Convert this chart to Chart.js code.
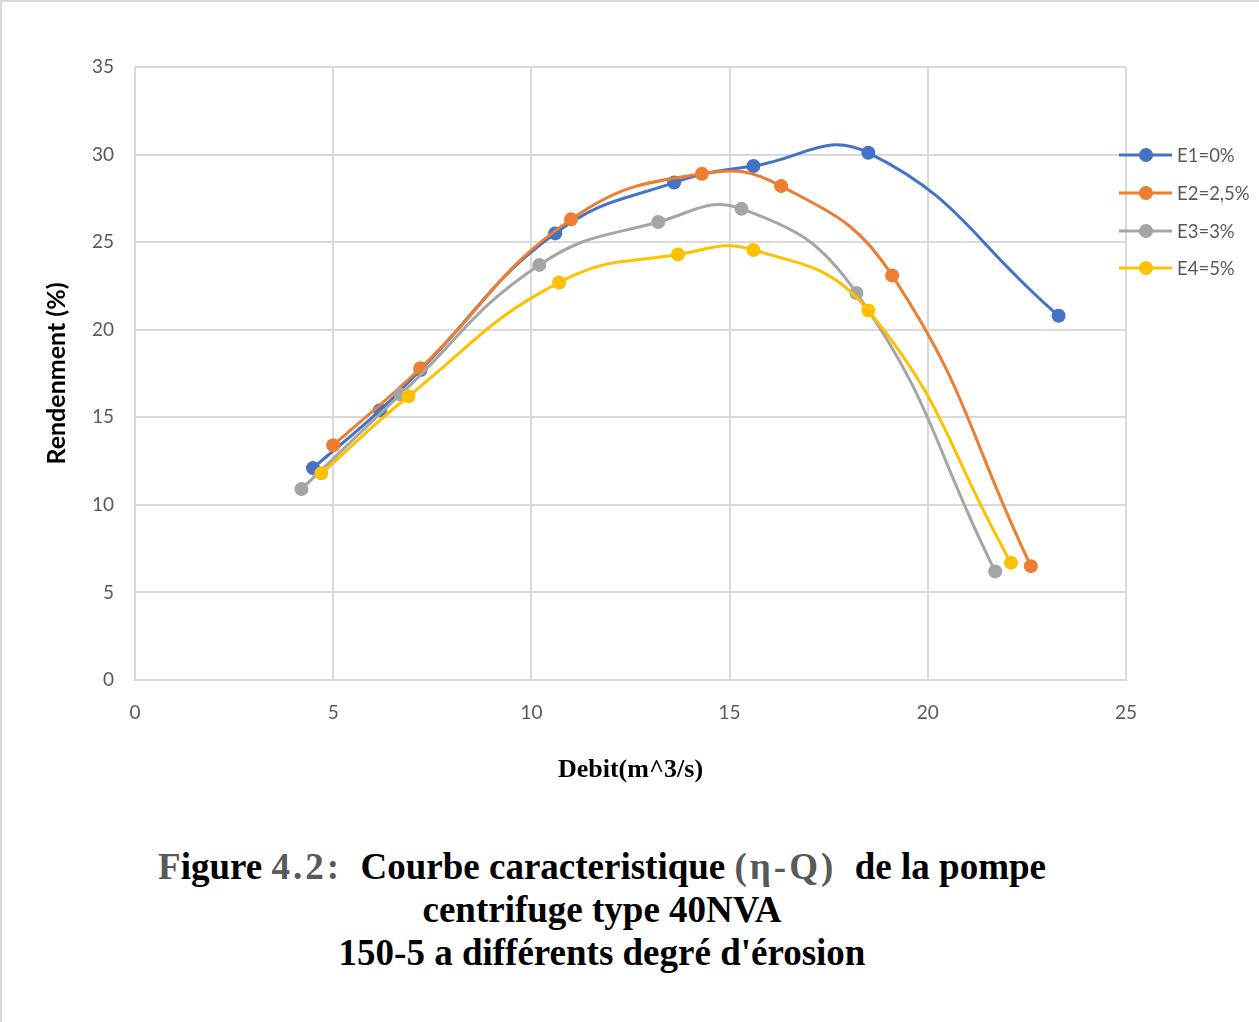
<!DOCTYPE html>
<html>
<head>
<meta charset="utf-8">
<script src="https://cdn.jsdelivr.net/npm/chart.js@4.4.1/dist/chart.umd.min.js"></script>
<style>
  html, body { margin: 0; padding: 0; background: #fff; }
  body { width: 1259px; height: 1022px; position: relative; overflow: hidden; }
  #frame { position: absolute; left: 0; top: 0; width: 1259px; height: 1022px; box-sizing: border-box; border-top: 2px solid #d9d9d9; border-left: 2px solid #d9d9d9; }
  #wrap { position: absolute; left: 0; top: 0; width: 1259px; height: 800px; }
  #caption { position: absolute; left: 0; width: 1204px; top: 845px; text-align: center;
    font-family: "Liberation Serif", "Times New Roman", serif; font-weight: bold; font-size: 37px; line-height: 43px; color: #000; }
  .g { color: #595959; }
  .s { color: #595959; letter-spacing: 3px; }
</style>
</head>
<body>
<div id="frame"></div>
<div id="wrap"><canvas id="c" width="1259" height="800"></canvas></div>
<div id="caption"><span class="g">F</span>igure <span class="s">4.2:</span>&nbsp; Courbe caracteristique <span class="s">(η-Q)</span>&nbsp; de la pompe<br>centrifuge type 40NVA<br>150-5 a différents degré d'érosion</div>
<script>
const seriesNames = ["E1=0%", "E2=2,5%", "E3=3%", "E4=5%"];
const seriesColors = ["#4472c4", "#ed7d31", "#a5a5a5", "#ffc000"];

const e1Debit = [4.49, 6.18, 7.2, 10.6, 13.6, 15.6, 18.5, 23.3];
const e1Rend  = [12.1, 15.4, 17.7, 25.5, 28.4, 29.35, 30.1, 20.8];

const e2Debit = [5.0, 7.2, 11.0, 14.3, 16.3, 19.1, 22.6];
const e2Rend  = [13.4, 17.8, 26.3, 28.9, 28.2, 23.1, 6.5];

const e3Debit = [4.2, 6.7, 10.2, 13.2, 15.3, 18.2, 21.7];
const e3Rend  = [10.9, 16.3, 23.7, 26.15, 26.9, 22.1, 6.2];

const e4Debit = [4.7, 6.9, 10.7, 13.7, 15.6, 18.5, 22.1];
const e4Rend  = [11.8, 16.2, 22.7, 24.3, 24.55, 21.1, 6.7];

const xTicks = [0, 5, 10, 15, 20, 25];
const yTicks = [0, 5, 10, 15, 20, 25, 30, 35];

function pts(xs, ys) { return xs.map((x, i) => ({ x: x, y: ys[i] })); }
const allX = [e1Debit, e2Debit, e3Debit, e4Debit];
const allY = [e1Rend, e2Rend, e3Rend, e4Rend];

const datasets = seriesNames.map((name, i) => ({
  label: name,
  data: pts(allX[i], allY[i]),
  borderColor: seriesColors[i],
  backgroundColor: seriesColors[i],
  borderWidth: 3,
  pointRadius: 7,
  pointHoverRadius: 7,
  pointBorderWidth: 0,
  tension: 0.45,
  fill: false,
  order: seriesNames.length - 1 - i
}));

const legendPlugin = {
  id: 'customLegend',
  afterDraw(chart) {
    const ctx = chart.ctx;
    const ys = [155, 193, 231, 268];
    ctx.save();
    seriesNames.forEach((name, i) => {
      const ds = chart.data.datasets[i];
      const y = ys[i];
      ctx.strokeStyle = ds.borderColor;
      ctx.lineWidth = 3;
      ctx.beginPath();
      ctx.moveTo(1119, y);
      ctx.lineTo(1172, y);
      ctx.stroke();
      ctx.fillStyle = ds.borderColor;
      ctx.beginPath();
      ctx.arc(1146, y, 7, 0, Math.PI * 2);
      ctx.fill();
      ctx.fillStyle = '#595959';
      ctx.font = '18.5px Lato, "Open Sans", sans-serif';
      ctx.textBaseline = 'middle';
      ctx.textAlign = 'left';
      ctx.fillText(ds.label, 1177, y + 1);
    });
    ctx.restore();
  }
};

new Chart(document.getElementById('c'), {
  type: 'line',
  data: { datasets: datasets },
  plugins: [legendPlugin],
  options: {
    responsive: false,
    animation: false,
    events: [],
    layout: { padding: { left: 0, right: 133, top: 67, bottom: 0 } },
    plugins: { legend: { display: false }, tooltip: { enabled: false } },
    scales: {
      x: {
        type: 'linear',
        min: 0, max: 25,
        afterBuildTicks(scale) { scale.ticks = xTicks.map(v => ({ value: v })); },
        afterFit(scale) { scale.height = 120; },
        grid: { color: '#d9d9d9', lineWidth: 2, drawTicks: false },
        border: { color: '#d9d9d9', width: 2 },
        ticks: { color: '#595959', font: { family: 'Lato, "Open Sans", sans-serif', size: 19 }, padding: 21, maxRotation: 0 },
        title: { display: true, text: 'Debit(m^3/s)', color: '#000',
          font: { family: '"Liberation Serif", "Times New Roman", serif', size: 26, weight: 'bold' },
          padding: { top: 0, bottom: 14 } }
      },
      y: {
        type: 'linear',
        min: 0, max: 35,
        afterBuildTicks(scale) { scale.ticks = yTicks.map(v => ({ value: v })); },
        afterFit(scale) { scale.width = 135; },
        grid: { color: '#d9d9d9', lineWidth: 2, drawTicks: false },
        border: { color: '#d9d9d9', width: 2 },
        ticks: { color: '#595959', font: { family: 'Lato, "Open Sans", sans-serif', size: 19 }, padding: 21 },
        title: { display: true, text: 'Rendenment (%)', color: '#000',
          font: { family: 'Lato, "Open Sans", sans-serif', size: 25, weight: 'bold' },
          padding: { top: 42, bottom: 0 } }
      }
    }
  }
});
</script>
</body>
</html>
